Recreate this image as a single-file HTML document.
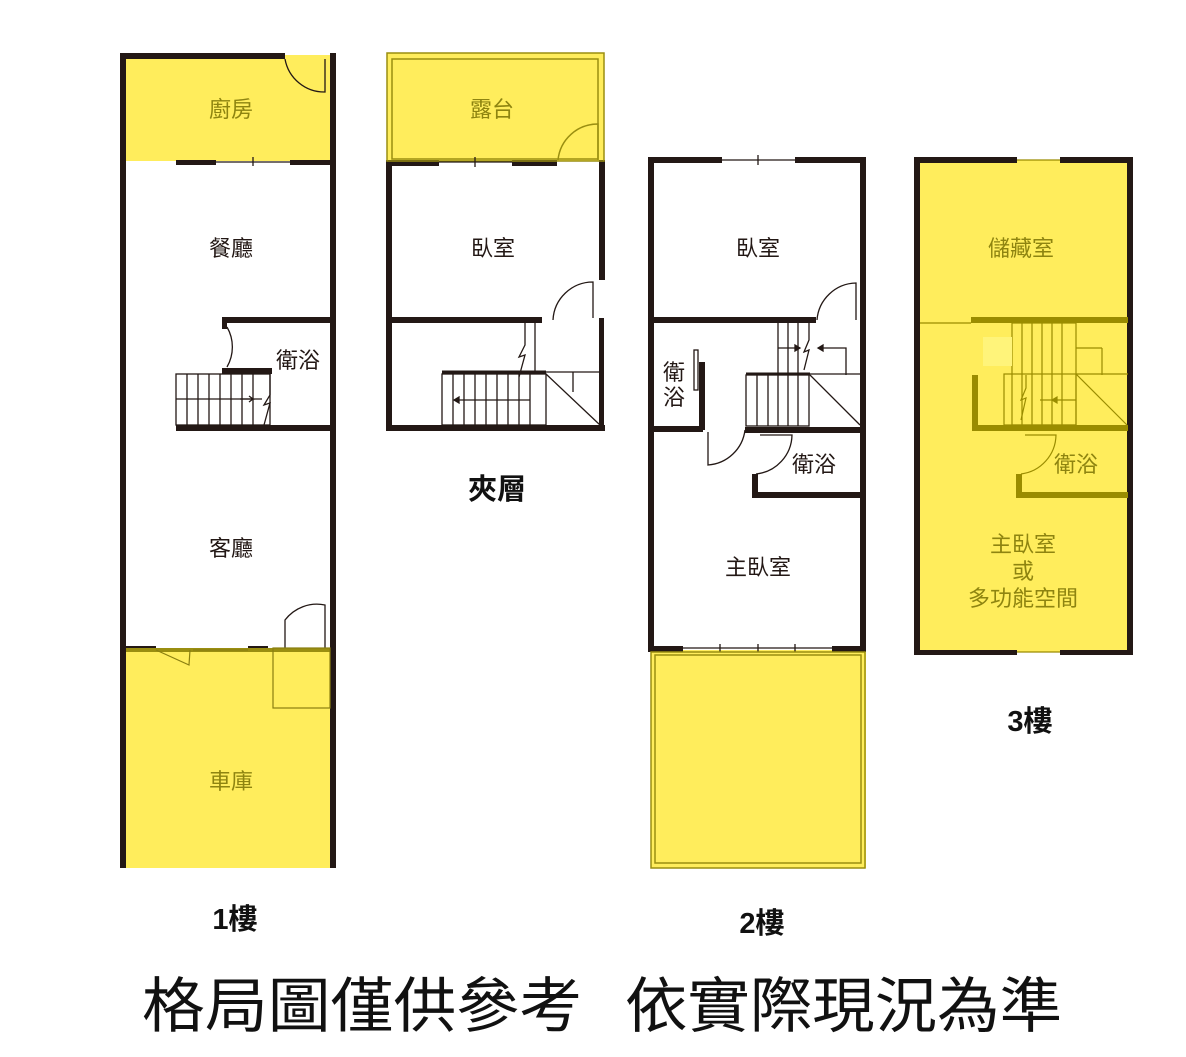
<!DOCTYPE html>
<html><head><meta charset="utf-8"><style>
html,body{margin:0;padding:0;background:#fff;}
svg{display:block;}
text{font-family:"Liberation Sans","Noto Sans CJK TC",sans-serif;}
</style></head><body>
<svg width="1186" height="1057" viewBox="0 0 1186 1057" xmlns="http://www.w3.org/2000/svg">
<rect width="1186" height="1057" fill="#fff"/>
<g fill="#ffed5c">
<rect x="124" y="55" width="210" height="106"/>
<rect x="124" y="648" width="210" height="220"/>
<rect x="387" y="53" width="217" height="108"/>
<rect x="651" y="650" width="215" height="218"/>
<rect x="918" y="160" width="212" height="492"/>
</g>
<!-- 1F -->
<g fill="#231815">
<rect x="120" y="53" width="6" height="815"/>
<rect x="330" y="160" width="6" height="708"/>
<rect x="120" y="53" width="165" height="6"/>
<rect x="330" y="53" width="6" height="107"/>
<rect x="176" y="160" width="40" height="5"/>
<rect x="290" y="160" width="44" height="5"/>
<rect x="222" y="317" width="110" height="6"/>
<rect x="222" y="317" width="5" height="12"/>
<rect x="222" y="368" width="50" height="6"/>
<rect x="176" y="425" width="158" height="6"/>
<rect x="126" y="646" width="30" height="4"/>
<rect x="248" y="646" width="20" height="4"/>
</g>
<g fill="#9a8e10">
<rect x="126" y="648" width="204" height="4"/>
</g>
<g fill="none" stroke="#231815" stroke-width="1.3">
<line x1="216" y1="162" x2="290" y2="162"/><line x1="253" y1="157" x2="253" y2="166"/>
<path d="M285 59 A40 40 0 0 0 325 92 L325 59"/>
<path d="M227 327 A40 40 0 0 1 227 367"/>
<rect x="176" y="374" width="94" height="51"/>
<line x1="176" y1="399" x2="262" y2="399"/>
<path d="M187 374V425M198 374V425M209 374V425M220 374V425M231 374V425M242 374V425M253 374V425"/>
<path d="M240 399h13l-4 -3M253 399l-4 3"/>
<path d="M270 374V395l-6 10l6 -2l-6 22"/>
<path d="M285 648V620 A40 40 0 0 1 325 605V648"/>
</g>
<g fill="none" stroke="#8a7f10" stroke-width="1.2">
<rect x="273" y="648" width="57" height="60"/>
<path d="M156 650 L189 665 L190 650"/>
<line x1="193" y1="650" x2="248" y2="650"/>
</g>
<!-- Mezzanine -->
<g fill="#231815">
<rect x="386" y="160" width="6" height="271"/>
<rect x="599" y="160" width="6" height="120"/>
<rect x="599" y="318" width="5" height="113"/>
<rect x="386" y="160" width="53" height="6"/>
<rect x="512" y="160" width="45" height="6"/>
<rect x="386" y="317" width="156" height="6"/>
<rect x="386" y="425" width="219" height="6"/>
</g>
<g fill="none" stroke="#9a8e10" stroke-width="1.5">
<rect x="387" y="53" width="217" height="108"/>
<rect x="392" y="59" width="206" height="100"/>
<path d="M558 160 A40 40 0 0 1 598 124V160"/>
</g>
<g fill="none" stroke="#231815" stroke-width="1.3">
<line x1="439" y1="162" x2="512" y2="162"/><line x1="475" y1="157" x2="475" y2="167"/>
<path d="M553 320 A40 40 0 0 1 593 282V318"/>
<rect x="442" y="374" width="104" height="51"/>
<line x1="442" y1="372" x2="546" y2="372" stroke-width="3"/>
<path d="M453 374V425M464 374V425M475 374V425M486 374V425M497 374V425M508 374V425M519 374V425M530 374V425"/>
<line x1="454" y1="400" x2="530" y2="400"/><path d="M454 400l5 -3v6z" fill="#231815"/>
<path d="M525 323V345l-6 12l6 -2l-6 22"/>
<line x1="535" y1="323" x2="535" y2="372"/>
<path d="M546 374 L600 425"/><line x1="546" y1="372" x2="600" y2="372"/>
<line x1="573" y1="372" x2="573" y2="392"/>
</g>
<!-- 2F -->
<g fill="#231815">
<rect x="648" y="157" width="6" height="493"/>
<rect x="860" y="157" width="6" height="493"/>
<rect x="648" y="157" width="74" height="6"/>
<rect x="795" y="157" width="71" height="6"/>
<rect x="648" y="317" width="168" height="6"/>
<rect x="648" y="426" width="55" height="6"/>
<rect x="699" y="362" width="6" height="68"/>
<rect x="745" y="427" width="121" height="6"/>
<rect x="752" y="492" width="114" height="6"/>
<rect x="752" y="474" width="6" height="22"/>
<rect x="648" y="646" width="35" height="6"/>
<rect x="832" y="646" width="34" height="6"/>
</g>
<g fill="none" stroke="#231815" stroke-width="1.3">
<line x1="722" y1="160" x2="795" y2="160"/><line x1="758" y1="155" x2="758" y2="165"/>
<line x1="683" y1="648" x2="832" y2="648"/><path d="M720 644v8M758 644v8M795 644v8"/>
<path d="M817 320 A40 40 0 0 1 856 283V320"/>
<rect x="746" y="375" width="63" height="51"/>
<line x1="746" y1="374" x2="810" y2="374" stroke-width="3"/>
<path d="M757 375V426M768 375V426M778 375V426M788 375V426M798 375V426"/>
<path d="M778 323V375M788 323V375M798 323V375"/>
<line x1="778" y1="348" x2="800" y2="348"/><path d="M800 348l-5 -3v6z" fill="#231815"/>
<path d="M836 348H846V375"/><path d="M818 348h18" /><path d="M818 348l5 -3v6z" fill="#231815"/>
<path d="M809 323V340l-5 12l5 -2l-5 20"/>
<path d="M810 375 L860 425"/><line x1="810" y1="374" x2="860" y2="374"/>
<path d="M708 432V465 A40 40 0 0 0 745 430"/>
<path d="M756 474 A40 40 0 0 0 792 435 H760"/>
<rect x="694" y="350" width="4" height="40"/>
</g>
<g fill="none" stroke="#9a8e10" stroke-width="1.5">
<rect x="651" y="652" width="214" height="216"/>
<rect x="655" y="655" width="206" height="208"/>
</g>
<!-- 3F -->
<g fill="#231815">
<rect x="914" y="157" width="6" height="497"/>
<rect x="1127" y="157" width="6" height="497"/>
<rect x="914" y="157" width="103" height="6"/>
<rect x="1060" y="157" width="73" height="6"/>
<rect x="914" y="650" width="103" height="5"/>
<rect x="1060" y="650" width="73" height="5"/>
</g>
<g fill="#9a8c00">
<rect x="971" y="317" width="157" height="6"/>
<rect x="972" y="375" width="6" height="55"/>
<rect x="972" y="425" width="156" height="6"/>
<rect x="1016" y="492" width="112" height="6"/>
<rect x="1016" y="474" width="6" height="22"/>
</g>
<g fill="none" stroke="#9a8c00" stroke-width="1.2">
<line x1="920" y1="323" x2="971" y2="323"/>
<line x1="1017" y1="160" x2="1060" y2="160"/><line x1="1017" y1="652" x2="1060" y2="652"/>
<rect x="1012" y="323" width="64" height="102"/>
<path d="M1022 323V425M1032 323V425M1042 323V425M1052 323V425M1062 323V425"/>
<line x1="1076" y1="348" x2="1102" y2="348"/><line x1="1102" y1="348" x2="1102" y2="375"/>
<rect x="1004" y="374" width="72" height="51"/>
<line x1="1076" y1="374" x2="1128" y2="374"/>
<path d="M1076 374 L1127 425"/>
<line x1="1040" y1="400" x2="1076" y2="400"/><path d="M1052 400l5 -3v6z" fill="#9a8c00"/>
<path d="M1026 375V388l-5 12l5 -2l-5 22"/>
<path d="M1021 474 A40 40 0 0 0 1056 435 H1025"/>
</g>
<rect x="983" y="337" width="29" height="29" fill="#fff47a"/>
<!-- labels -->
<g font-size="22" text-anchor="middle" fill="#231815">
<text x="231" y="256">餐廳</text>
<text x="231" y="556">客廳</text>
<text x="298" y="368">衛浴</text>
<text x="493" y="256">臥室</text>
<text x="758" y="256">臥室</text>
<text x="758" y="575">主臥室</text>
<text x="814" y="472">衛浴</text>
<text x="674" y="380">衛</text>
<text x="674" y="405">浴</text>
</g>
<g font-size="22" text-anchor="middle" fill="#8e8410">
<text x="231" y="117">廚房</text>
<text x="492" y="117">露台</text>
<text x="231" y="789">車庫</text>
<text x="1021" y="256">儲藏室</text>
<text x="1076" y="472">衛浴</text>
<text x="1023" y="552">主臥室</text>
<text x="1023" y="579">或</text>
<text x="1023" y="606">多功能空間</text>
</g>
<g font-size="29" font-weight="bold" text-anchor="middle" fill="#111">
<text x="235" y="929">1樓</text>
<text x="497" y="499">夾層</text>
<text x="762" y="933">2樓</text>
<text x="1030" y="731">3樓</text>
</g>
<text x="142" y="1027" font-size="60" fill="#111" textLength="440" lengthAdjust="spacingAndGlyphs">格局圖僅供參考</text>
<text x="625" y="1027" font-size="60" fill="#111" textLength="437" lengthAdjust="spacingAndGlyphs">依實際現況為準</text>
</svg>
</body></html>
